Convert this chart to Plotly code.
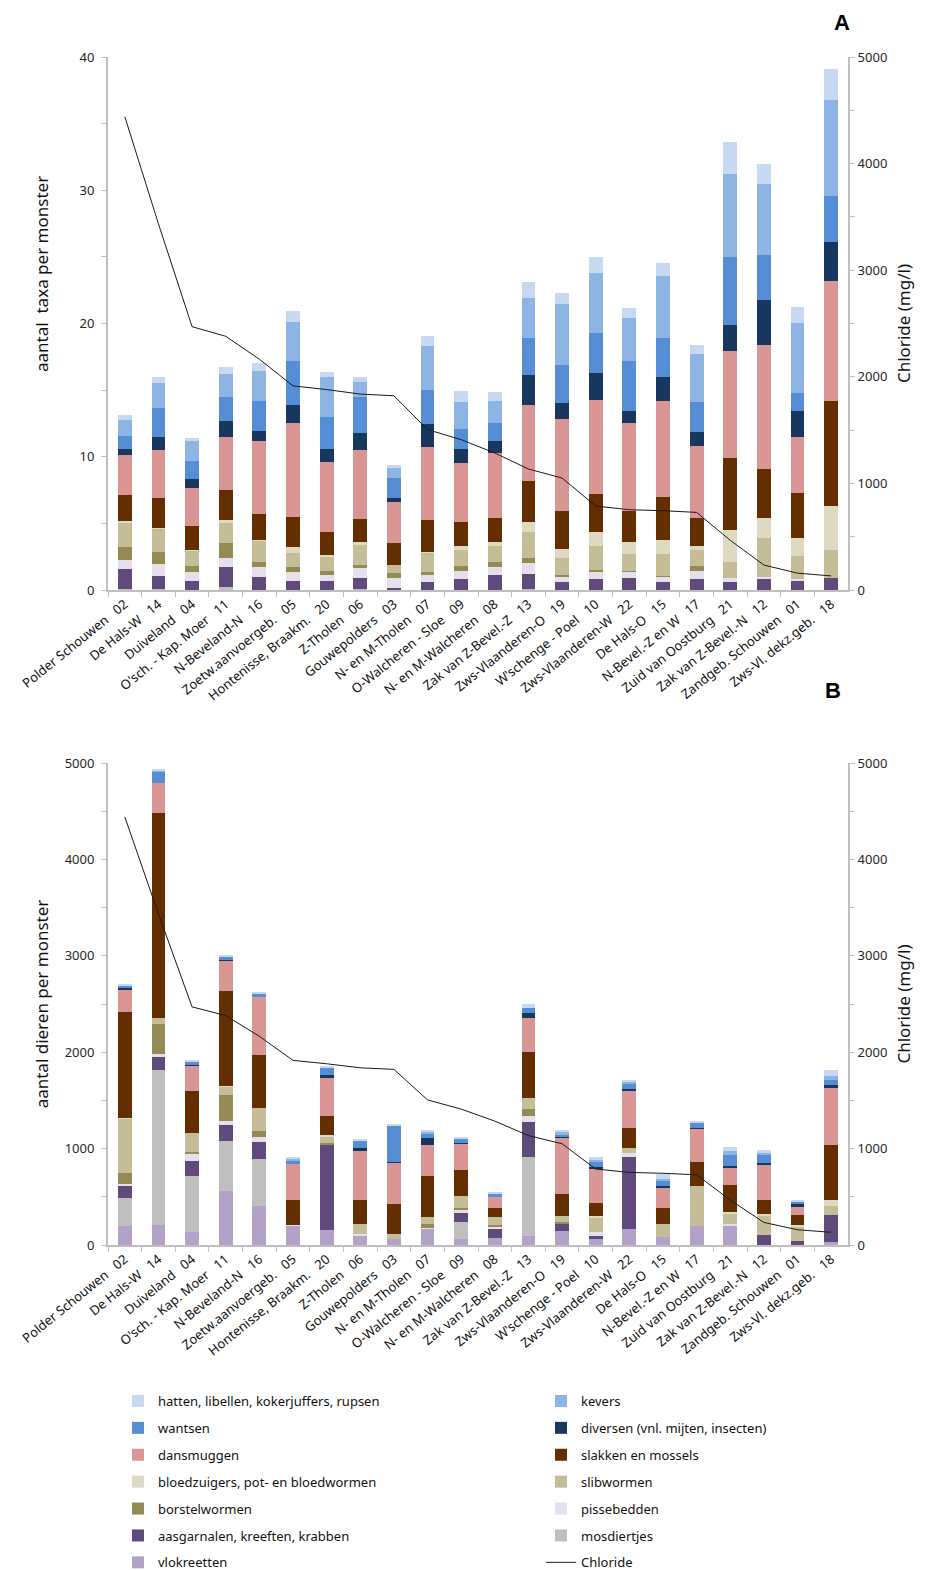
import plotly.graph_objects as go

NB = "\u00a0\u00a0\u00a0"
names = ["Polder Schouwen", "De Hals-W", "Duiveland", "O'sch. - Kap. Moer", "N-Beveland-N",
         "Zoetw.aanvoergeb.", "Hontenisse, Braakm.", "Z-Tholen", "Gouwepolders", "N- en M-Tholen",
         "O-Walcheren - Sloe", "N- en M-Walcheren", "Zak van Z-Bevel.-Z", "Zws-Vlaanderen-O",
         "W'schenge - Poel", "Zws-Vlaanderen-W", "De Hals-O", "N-Bevel.-Z en W", "Zuid van Oostburg",
         "Zak van Z-Bevel.-N", "Zandgeb. Schouwen", "Zws-Vl. dekz.geb."]
codes = ["02", "14", "04", "11", "16", "05", "20", "06", "03", "07", "09", "08", "13", "19",
         "10", "22", "15", "17", "21", "12", "01", "18"]
categories = [n + NB + c for n, c in zip(names, codes)]

chloride = [4440, 3435, 2470, 2380, 2165, 1915, 1880, 1838, 1822, 1505, 1410, 1285, 1135, 1050,
            788, 753, 744, 728, 466, 234, 158, 132]

# Panel A: aantal taxa per monster
vlok_A = [0] * 22
mosd_A = [0.1, 0.08, 0, 0.2, 0, 0, 0, 0.08, 0, 0, 0, 0, 0.08, 0, 0, 0, 0, 0, 0, 0, 0, 0]
aas_A = [1.45, 0.98, 0.69, 1.55, 1.0, 0.69, 0.69, 0.83, 0.14, 0.57, 0.86, 1.15, 1.15, 0.63, 0.86, 0.92, 0.63, 0.86, 0.63, 0.86, 0.72, 0.92]
pisse_A = [0.7, 0.92, 0.66, 0.66, 0.72, 0.66, 0.46, 0.75, 0.78, 0.52, 0.57, 0.57, 0.78, 0.37, 0.52, 0.46, 0.37, 0.57, 0.29, 0.14, 0.1, 0]
borstel_A = [0.95, 0.89, 0.46, 1.15, 0.4, 0.4, 0.29, 0.23, 0.32, 0.23, 0.34, 0.4, 0.4, 0.14, 0.14, 0.06, 0.06, 0.34, 0, 0, 0, 0]
slib_A = [1.8, 1.72, 1.15, 1.44, 1.58, 1.03, 1.09, 1.49, 0.66, 1.46, 1.26, 1.21, 1.95, 1.26, 1.81, 1.29, 1.67, 1.23, 1.21, 2.93, 1.72, 2.1]
bloed_A = [0.17, 0.09, 0.06, 0.29, 0.06, 0.43, 0.09, 0.23, 0, 0.09, 0.29, 0.29, 0.75, 0.69, 1.03, 0.89, 1.03, 0.32, 2.41, 1.49, 1.35, 3.3]
slak_A = [1.95, 2.24, 1.81, 2.24, 1.95, 2.3, 1.75, 1.72, 1.61, 2.35, 1.78, 1.81, 3.1, 2.84, 2.87, 2.33, 3.24, 2.1, 5.4, 3.67, 3.36, 7.9]
dans_A = [3.0, 3.62, 2.84, 3.99, 5.48, 7.03, 5.2, 5.2, 3.07, 5.54, 4.45, 4.82, 5.68, 6.92, 7.03, 6.6, 7.21, 5.4, 8.01, 9.3, 4.22, 8.99]
div_A = [0.46, 0.98, 0.69, 1.18, 0.75, 1.35, 0.98, 1.26, 0.34, 1.72, 1.03, 0.95, 2.27, 1.18, 2.04, 0.92, 1.78, 1.06, 1.95, 3.39, 1.95, 2.93]
want_A = [0.98, 2.15, 1.35, 1.75, 2.27, 3.3, 2.47, 2.73, 1.49, 2.5, 1.49, 1.35, 2.76, 2.87, 2.99, 3.73, 2.93, 2.24, 5.11, 3.36, 1.35, 3.45]
kev_A = [1.2, 1.9, 1.44, 1.78, 2.24, 2.93, 2.93, 1.09, 0.78, 3.33, 2.04, 1.67, 3.01, 4.57, 4.51, 3.19, 4.62, 3.59, 6.23, 5.34, 5.25, 7.15]
hat_A = [0.35, 0.43, 0.29, 0.52, 0.57, 0.83, 0.43, 0.37, 0.2, 0.78, 0.83, 0.66, 1.21, 0.83, 1.21, 0.8, 1.0, 0.69, 2.41, 1.49, 1.23, 2.38]

# Panel B: aantal dieren per monster
vlok_B = [197, 203, 131, 565, 400, 203, 152, 90, 59, 166, 59, 69, 90, 141, 59, 162, 79, 197, 203, 0, 0, 28]
mosd_B = [286, 1614, 590, 517, 497, 0, 0, 0, 0, 0, 176, 0, 828, 0, 0, 0, 0, 0, 0, 0, 0, 0]
aas_B = [124, 138, 155, 166, 176, 0, 890, 0, 0, 0, 93, 93, 362, 72, 31, 755, 0, 0, 0, 100, 38, 279]
pisse_B = [28, 28, 76, 41, 52, 7, 0, 21, 0, 10, 45, 34, 62, 0, 41, 41, 0, 0, 10, 0, 0, 0]
borstel_B = [117, 310, 10, 269, 62, 0, 21, 0, 0, 38, 7, 10, 72, 21, 0, 0, 0, 0, 0, 0, 0, 0]
slib_B = [559, 62, 203, 86, 238, 0, 62, 103, 52, 79, 124, 83, 110, 62, 159, 52, 134, 414, 114, 210, 159, 93]
bloed_B = [7, 0, 0, 7, 0, 0, 17, 0, 0, 0, 0, 0, 0, 0, 7, 0, 0, 0, 14, 10, 10, 62]
slak_B = [1100, 2131, 434, 983, 548, 252, 200, 248, 310, 428, 269, 90, 479, 238, 134, 207, 166, 255, 279, 152, 100, 579]
dans_B = [228, 310, 259, 314, 603, 376, 393, 517, 434, 321, 279, 124, 352, 579, 362, 390, 221, 345, 176, 355, 86, 590]
div_B = [28, 0, 10, 10, 0, 0, 31, 31, 7, 72, 10, 0, 52, 10, 21, 10, 10, 7, 21, 21, 28, 31]
want_B = [14, 114, 31, 31, 28, 41, 72, 72, 379, 45, 34, 28, 55, 21, 52, 59, 62, 45, 114, 83, 28, 52]
kev_B = [7, 14, 0, 0, 0, 17, 0, 0, 0, 14, 0, 0, 0, 24, 14, 17, 17, 0, 41, 28, 0, 41]
hat_B = [14, 14, 21, 17, 17, 17, 17, 21, 17, 17, 24, 14, 34, 28, 38, 17, 48, 24, 48, 28, 14, 62]

# series: (label, colour, panel A, panel B, legend, rank) -- stacking order bottom to top
series = [
    ("vlokreetten", "#b3a2c7", vlok_A, vlok_B, "legend", 13),
    ("mosdiertjes", "#bfbfbf", mosd_A, mosd_B, "legend2", 12),
    ("aasgarnalen, kreeften, krabben", "#604a7b", aas_A, aas_B, "legend", 11),
    ("pissebedden", "#e6e0ec", pisse_A, pisse_B, "legend2", 10),
    ("borstelwormen", "#948a54", borstel_A, borstel_B, "legend", 9),
    ("slibwormen", "#c4bd97", slib_A, slib_B, "legend2", 8),
    ("bloedzuigers, pot- en bloedwormen", "#ddd9c3", bloed_A, bloed_B, "legend", 7),
    ("slakken en mossels", "#632f00", slak_A, slak_B, "legend2", 6),
    ("dansmuggen", "#d99694", dans_A, dans_B, "legend", 5),
    ("diversen (vnl. mijten, insecten)", "#17375e", div_A, div_B, "legend2", 4),
    ("wantsen", "#558ed5", want_A, want_B, "legend", 3),
    ("kevers", "#8eb4e3", kev_A, kev_B, "legend2", 2),
    ("hatten, libellen, kokerjuffers, rupsen", "#c6d9f1", hat_A, hat_B, "legend", 1),
]

fig = go.Figure()
for label, col, a, b, lg, rank in series:
    fig.add_trace(go.Bar(x=categories, y=a, name=label, marker=dict(color=col, line=dict(width=0)),
                         xaxis="x", yaxis="y", legendgroup=label, legend=lg, legendrank=rank))
    fig.add_trace(go.Bar(x=categories, y=b, name=label, marker=dict(color=col, line=dict(width=0)),
                         xaxis="x2", yaxis="y3", legendgroup=label, legend=lg, legendrank=rank,
                         showlegend=False))

fig.add_trace(go.Scatter(x=categories, y=chloride, name="Chloride", mode="lines",
                         line=dict(color="#1a1a1a", width=1), xaxis="x", yaxis="y2",
                         legendgroup="chl", legend="legend2", legendrank=14))
fig.add_trace(go.Scatter(x=categories, y=chloride, name="Chloride", mode="lines",
                         line=dict(color="#1a1a1a", width=1), xaxis="x2", yaxis="y4",
                         legendgroup="chl", legend="legend2", legendrank=14, showlegend=False))

FONT = "Noto Sans, Open Sans, sans-serif"
TXT = "#262626"
AX = "#bfbfbf"
xdom = [108 / 925, 848 / 925]
ydomA = [1 - 590 / 1570, 1 - 57 / 1570]
ydomB = [1 - 1245 / 1570, 1 - 763 / 1570]

def xax(anchor):
    return dict(domain=xdom, anchor=anchor, type="category", tickangle=-39, automargin=False,
                ticks="outside", tickson="boundaries", ticklen=5, tickcolor=AX,
                showline=True, linecolor=AX, linewidth=1.5, showgrid=False,
                tickfont=dict(size=13, color="#111", family=FONT))

def yax(dom, rng, dt, mdt, title, side="left", overlay=None, anchor=None, standoff=20, tls=0):
    d = dict(range=rng, dtick=dt, ticks="outside", ticklen=5, tickcolor=AX, automargin=False,
             minor=dict(dtick=mdt, ticks="outside", ticklen=5, tickcolor=AX),
             showline=True, linecolor=AX, linewidth=2, showgrid=False, zeroline=False,
             tickfont=dict(size=13, color=TXT, family=FONT), ticklabelstandoff=tls,
             title=dict(text=title, font=dict(size=17, color="#111", family=FONT), standoff=standoff),
             side=side)
    if overlay:
        d["overlaying"] = overlay
        d["anchor"] = anchor
    else:
        d["domain"] = dom
        d["anchor"] = anchor
    return d

fig.update_layout(
    width=925, height=1570,
    margin=dict(l=0, r=0, t=0, b=0, autoexpand=False),
    paper_bgcolor="white", plot_bgcolor="white",
    barmode="stack", bargap=0.59,
    font=dict(family=FONT, color=TXT),
    xaxis=xax("y"),
    xaxis2=xax("y3"),
    yaxis=yax(ydomA, [0, 40], 10, 5, "", anchor="x", tls=4),
    yaxis2=yax(None, [0, 5000], 1000, 500, "Chloride (mg/l)", side="right", overlay="y", anchor="x", standoff=12),
    yaxis3=yax(ydomB, [0, 5000], 1000, 500, "aantal dieren per monster", anchor="x2", standoff=12, tls=4),
    yaxis4=yax(None, [0, 5000], 1000, 500, "Chloride (mg/l)", side="right", overlay="y3", anchor="x2", standoff=12),
    legend=dict(x=118 / 925, y=1 - 1386 / 1570, xanchor="left", yanchor="top", orientation="v",
                traceorder="grouped", tracegroupgap=7, font=dict(size=13, color="#111", family=FONT),
                bgcolor="rgba(0,0,0,0)"),
    legend2=dict(x=541 / 925, y=1 - 1386 / 1570, xanchor="left", yanchor="top", orientation="v",
                 traceorder="grouped", tracegroupgap=7, font=dict(size=13, color="#111", family=FONT),
                 bgcolor="rgba(0,0,0,0)"),
    annotations=[
        dict(text="aantal\u00a0 taxa per monster", x=42 / 925, y=1 - 274 / 1570, xref="paper", yref="paper",
             textangle=-90, showarrow=False, xanchor="center", yanchor="middle",
             font=dict(size=17, color="#111", family=FONT)),
        dict(text="<b>A</b>", x=842 / 925, y=1 - 23 / 1570, xref="paper", yref="paper",
             xanchor="center", yanchor="middle",
             showarrow=False, font=dict(size=22, color="#000", family="Liberation Sans, Arial")),
        dict(text="<b>B</b>", x=833 / 925, y=1 - 690 / 1570, xref="paper", yref="paper",
             xanchor="center", yanchor="middle",
             showarrow=False, font=dict(size=22, color="#000", family="Liberation Sans, Arial")),
    ],
    hovermode=False,
)

fig.write_html("out.html")
